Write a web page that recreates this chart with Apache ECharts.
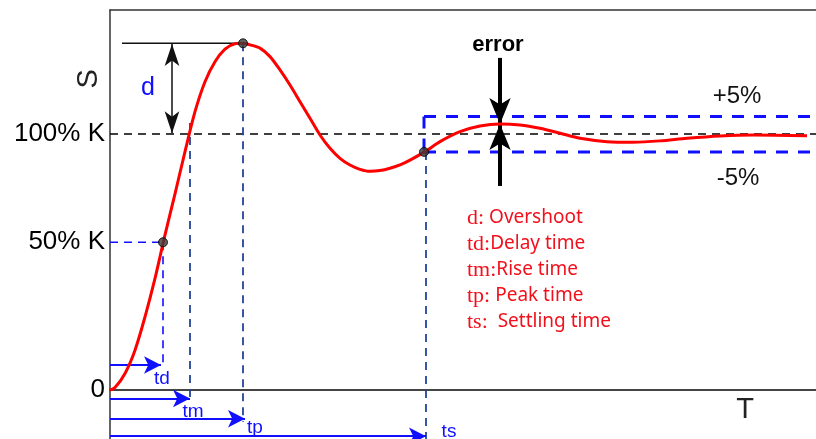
<!DOCTYPE html>
<html><head><meta charset="utf-8">
<script src="https://cdn.jsdelivr.net/npm/echarts@6/dist/echarts.min.js"></script>
<style>html,body{margin:0;padding:0;background:#fff}#c{width:816px;height:439px}</style>
</head><body><div id="c"></div>
<script>
// ---- data (time in arbitrary units, response in % of K) ----
const curveT = [0, 0.5, 1.5, 2.5, 3.5, 4.5, 5.5, 6.5, 7.5, 8.5, 9.5, 10.5, 11.5, 12.5, 13.3, 14.0, 15.0, 16.0, 17.0, 18.0, 19.0, 20.0, 21.0, 22.0, 23.0, 24.0, 25.0, 26.0, 27.0, 28.0, 29.0, 30.0, 31.5, 33.0, 35.0, 37.0, 39.0, 41.0, 43.0, 45.0, 47.0, 49.7, 52.3, 55.0, 57.7, 61.0, 64.3, 69.7];
const curveS = [0, 1.0, 6.5, 15.6, 28.6, 43.6, 60.6, 76.6, 93.1, 108.7, 120.4, 128.2, 133.1, 135.2, 135.4, 134.8, 133.5, 130.2, 125.0, 119.1, 112.6, 106.1, 99.6, 94.4, 90.5, 87.9, 86.2, 85.4, 85.7, 86.6, 87.9, 89.8, 93.1, 97.0, 100.9, 103.1, 103.9, 103.5, 102.2, 100.3, 98.3, 97.0, 96.8, 97.3, 98.3, 99.2, 99.6, 99.3];
const tdTime = 5.3, tmTime = 8.0, tpTime = 13.3, tsTime = 31.6, errTime = 39.0;
const peakLevel = 135.4, halfLevel = 57.7, finalLevel = 100, upperBand = 106.8, lowerBand = 93.0, settleLevel = 93.0;
const yTickValues = [0, 57.7, 100];
const yTickLabels = ['0', '50% K', '100% K'];
const legendKeys = ['d:', 'td:', 'tm:', 'tp:', 'ts:'];
const legendTexts = [' Overshoot', 'Delay time', 'Rise time', ' Peak time', '  Settling time'];
const xMin = 0, xMax = 70.6, yMin = -19.1, yMax = 148.4;

// ---- build ----
const chart = echarts.init(document.getElementById('c'), null, {renderer: 'canvas'});
const curve = curveT.map((t, i) => [t, curveS[i]]);
const RED = '#f2101c', DBLUE = '#24449c', BLUE = '#1010ff';

function seg(points, color, width, dash, z) {
  return {type: 'line', data: points, showSymbol: false, symbol: 'none', silent: true, z: z || 3,
    lineStyle: {color: color, width: width, type: dash || 'solid'}, animation: false};
}
function arrows(lines, color, width, sym, symSize, z) {
  return {type: 'line', data: [], silent: true, z: z || 4,
    markLine: {silent: true, animation: false, symbol: sym, symbolSize: symSize,
      lineStyle: {color: color, width: width, type: 'solid', opacity: 1},
      label: {show: false}, emphasis: {disabled: true},
      data: lines.map(l => [{coord: l[0]}, {coord: l[1]}])}};
}
function lab(t, v, text, style) {
  return {value: [t, v], label: Object.assign({show: true, formatter: text, position: 'inside',
    fontFamily: 'Liberation Sans', color: '#111', opacity: 1, textBorderWidth: 0}, style)};
}

const labels = [
  lab(-2.1, 121.5, 'S', {fontSize: 29, rotate: 90, color: '#222'}),
  lab(3.8, 118.0, 'd', {fontSize: 25, color: BLUE}),
  lab(38.8, 134.8, 'error', {fontSize: 22, fontWeight: 'bold', color: '#000'}),
  lab(62.7, 114.5, '+5%', {fontSize: 24, color: '#111'}),
  lab(62.8, 82.8, '-5%', {fontSize: 24, color: '#111'}),
  lab(63.5, -7.8, 'T', {fontSize: 29, color: '#222'}),
  lab(5.2, 4.3, 'td', {fontSize: 19, color: BLUE}),
  lab(8.3, -8.6, 'tm', {fontSize: 19, color: BLUE}),
  lab(14.5, -14.8, 'tp', {fontSize: 19, color: BLUE}),
  lab(33.9, -16.4, 'ts', {fontSize: 19, color: BLUE})
];
const legendLevels = [67.2, 57.0, 46.9, 36.7, 26.6];
legendKeys.forEach((k, i) => {
  labels.push({value: [35.7, legendLevels[i]], label: {show: true, position: 'right', distance: 0, opacity: 1,
    formatter: '{k|' + k + '}{v|' + legendTexts[i] + '}',
    rich: {k: {fontFamily: 'Liberation Serif', fontSize: 22, color: RED},
           v: {fontFamily: 'Noto Sans', fontSize: 19, color: RED}}}});
});

const option = {
  animation: false,
  backgroundColor: '#fff',
  grid: {left: 110, right: 0, top: 10, bottom: 0, containLabel: false},
  xAxis: [
    {type: 'value', min: xMin, max: xMax, axisLine: {onZero: true, lineStyle: {color: '#444', width: 2}},
     axisTick: {show: false}, axisLabel: {show: false}, splitLine: {show: false}},
    {type: 'value', min: xMin, max: xMax, position: 'top', axisLine: {onZero: false, lineStyle: {color: '#333', width: 1.5}},
     axisTick: {show: false}, axisLabel: {show: false}, splitLine: {show: false}}
  ],
  yAxis: {type: 'value', min: yMin, max: yMax,
    axisLine: {show: true, onZero: false, lineStyle: {color: '#333', width: 1.5}},
    axisTick: {show: false}, splitLine: {show: false},
    axisLabel: {customValues: yTickValues, margin: 5, fontSize: 26, fontFamily: 'Liberation Sans', color: '#000',
      formatter: v => { const i = yTickValues.findIndex(x => Math.abs(x - v) < 1e-6); return i >= 0 ? yTickLabels[i] : ''; }}},
  series: [
    // reference lines
    seg([[xMin, finalLevel], [xMax, finalLevel]], '#000', 1.5, [8, 6], 2),
    seg([[xMin, halfLevel], [tdTime, halfLevel]], BLUE, 1.6, [8, 6], 2),
    seg([[tdTime, halfLevel], [tdTime, 9.8]], BLUE, 1.6, [8, 6], 2),
    seg([[tmTime, 104.3], [tmTime, -3.9]], DBLUE, 1.8, [8, 6], 2),
    seg([[tpTime, peakLevel], [tpTime, -12.5]], DBLUE, 1.8, [8, 6], 2),
    seg([[tsTime, settleLevel], [tsTime, yMin]], DBLUE, 1.8, [8, 6], 2),
    // tolerance band
    seg([[tsTime - 0.2, upperBand], [xMax, upperBand]], BLUE, 3, [12, 10], 2),
    seg([[tsTime - 0.2, lowerBand], [xMax, lowerBand]], BLUE, 3, [12, 10], 2),
    seg([[tsTime - 0.2, upperBand], [tsTime - 0.2, lowerBand]], BLUE, 3, [12, 10], 2),
    // peak line
    seg([[1.2, peakLevel], [tpTime, peakLevel]], '#111', 1.5, 'solid', 2),
    // response curve
    {type: 'line', data: curve, smooth: 0.3, showSymbol: false, symbol: 'none', z: 5,
     lineStyle: {color: '#ff0000', width: 3}},
    // key points
    {type: 'scatter', data: [[tdTime, halfLevel], [tpTime, peakLevel], [tsTime - 0.2, settleLevel]], symbolSize: 9, z: 6,
     itemStyle: {color: '#3a3a3a', borderColor: '#000', borderWidth: 1}},
    // arrows
    arrows([[[6.2, peakLevel - 0.3], [6.2, finalLevel + 0.3]]], '#111', 1.5, ['arrow', 'arrow'], [11, 22], 4),
    arrows([[[errTime, 129.7], [errTime, 103.9]], [[errTime, 79.7], [errTime, 103.9]]], '#000', 4, ['none', 'arrow'], [16, 26], 7),
    arrows([[[0, 9.8], [tdTime - 0.2, 9.8]], [[0, -3.3], [tmTime, -3.3]], [[0, -11.2], [tpTime + 0.2, -11.2]], [[0, -18.0], [tsTime, -18.0]]],
      BLUE, 2, ['none', 'arrow'], [13, 17], 4),
    // text
    {type: 'scatter', data: labels, symbolSize: 0, clip: false, silent: true, z: 8,
     itemStyle: {color: '#000', opacity: 1}, emphasis: {disabled: true}}
  ]
};
chart.setOption(option);
</script></body></html>
